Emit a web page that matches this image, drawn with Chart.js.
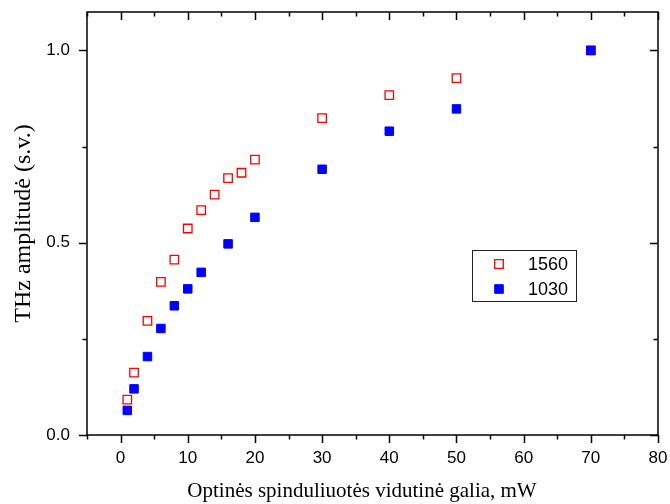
<!DOCTYPE html>
<html lang="lt">
  <head>
    <meta charset="UTF-8" />
    <title>THz amplitudė</title>
    <script src="https://cdn.jsdelivr.net/npm/chart.js@4.4.0/dist/chart.umd.min.js"></script>
    <style>
      html, body { margin: 0; padding: 0; background: #fff; }
      #wrap { width: 670px; height: 504px; }
    </style>
  </head>
  <body>
    <div id="wrap"><canvas id="myChart" width="670" height="504"></canvas></div>

    <script>
      // Vidutinė galia (mW) ir THz amplitudė (s.v.)
      const power1560 = [1, 2, 4, 6, 8, 10, 12, 14, 16, 18, 20, 30, 40, 50, 70];
      const amp1560 = [0.092, 0.162, 0.297, 0.398, 0.456, 0.537, 0.585, 0.625, 0.668, 0.682, 0.716, 0.824, 0.884, 0.928, 1.0];
      const power1030 = [1, 2, 4, 6, 8, 10, 12, 16, 20, 30, 40, 50, 70];
      const amp1030 = [0.064, 0.120, 0.204, 0.277, 0.336, 0.380, 0.423, 0.497, 0.566, 0.691, 0.790, 0.848, 1.0];

      // Ašių žymės
      const xLabels = [0, 10, 20, 30, 40, 50, 60, 70, 80];
      const xTicks = [-5, 0, 5, 10, 15, 20, 25, 30, 35, 40, 45, 50, 55, 60, 65, 70, 75, 80];
      const yLabels = [0, 0.5, 1.0];
      const yTicks = [0, 0.25, 0.5, 0.75, 1.0];

      const toPoints = (xs, ys) => xs.map((x, i) => ({ x: x, y: ys[i] }));

      // rėmelis ir žymių brūkšneliai (apačioje/kairėje į išorę, viršuje/dešinėje į vidų)
      const frameTicks = {
        id: "frameTicks",
        afterDraw(chart) {
          const { ctx, chartArea: a, scales } = chart;
          ctx.save();
          ctx.strokeStyle = "#000";
          ctx.lineWidth = 1.5;
          ctx.strokeRect(a.left, a.top, a.right - a.left, a.bottom - a.top);
          ctx.beginPath();
          xTicks.forEach((v) => {
            const px = Math.round(scales.x.getPixelForValue(v)) + 0.5;
            const len = v % 10 === 0 ? 8 : 4.5;
            ctx.moveTo(px, a.bottom); ctx.lineTo(px, a.bottom + len);
            ctx.moveTo(px, a.top); ctx.lineTo(px, a.top + len);
          });
          yTicks.forEach((v) => {
            const py = Math.round(scales.y.getPixelForValue(v)) + 0.5;
            const len = yLabels.includes(v) ? 8 : 4.5;
            ctx.moveTo(a.left, py); ctx.lineTo(a.left - len, py);
            ctx.moveTo(a.right, py); ctx.lineTo(a.right - len, py);
          });
          ctx.stroke();
          ctx.restore();
        },
      };

      // legenda grafiko viduje
      const innerLegend = {
        id: "innerLegend",
        afterDraw(chart) {
          const { ctx } = chart;
          const box = { x: 472, y: 250, w: 104, h: 51 };
          ctx.save();
          ctx.strokeStyle = "#222";
          ctx.lineWidth = 1;
          ctx.strokeRect(box.x + 0.5, box.y + 0.5, box.w, box.h);
          ctx.font = "18px 'Liberation Sans', Arial, sans-serif";
          ctx.fillStyle = "#000";
          ctx.textBaseline = "middle";
          chart.data.datasets.forEach((ds, i) => {
            const cy = box.y + 14 + i * 25;
            const cx = box.x + 27;
            ctx.lineWidth = ds.borderWidth;
            ctx.strokeStyle = ds.borderColor;
            ctx.fillStyle = ds.backgroundColor;
            ctx.beginPath();
            ctx.rect(cx - 4.3, cy - 4.3, 8.6, 8.6);
            ctx.fill();
            ctx.stroke();
            ctx.fillStyle = "#000";
            ctx.fillText(ds.label, box.x + 56, cy + 1);
          });
          ctx.restore();
        },
      };

      const tickFont = { family: "'Liberation Sans', Arial, sans-serif", size: 17 };
      const serif = "'Liberation Serif', 'Times New Roman', serif";

      const ctx = document.getElementById("myChart").getContext("2d");
      new Chart(ctx, {
        type: "scatter",
        data: {
          datasets: [
            {
              label: "1560",
              data: toPoints(power1560, amp1560),
              pointStyle: "rect",
              pointRadius: 6,
              borderColor: "#ff0000",
              backgroundColor: "rgba(255,255,255,0)",
              borderWidth: 1.3,
              order: 2,
            },
            {
              label: "1030",
              data: toPoints(power1030, amp1030),
              pointStyle: "rect",
              pointRadius: 6,
              borderColor: "#0000ff",
              backgroundColor: "#0000ff",
              borderWidth: 1,
              order: 1,
            },
          ],
        },
        options: {
          responsive: false,
          animation: false,
          layout: { padding: { top: 12, right: 12, left: 0, bottom: 0 } },
          plugins: { legend: { display: false }, tooltip: { enabled: false } },
          scales: {
            x: {
              type: "linear",
              min: -5,
              max: 80,
              afterBuildTicks: (s) => { s.ticks = xLabels.map((v) => ({ value: v })); },
              afterFit: (s) => {
                s.height = 69;
                s.paddingLeft = 0;
                s.paddingRight = 0;
              },
              grid: { display: false, drawTicks: false },
              border: { display: false },
              ticks: { font: tickFont, color: "#000", padding: 13, maxRotation: 0 },
              title: {
                display: true,
                text: "Optinės spinduliuotės vidutinė galia, mW\u2003",
                font: { family: serif, size: 21 },
                color: "#000",
                padding: { top: 0, bottom: 0 },
              },
            },
            y: {
              type: "linear",
              min: 0,
              max: 1.1,
              afterBuildTicks: (s) => { s.ticks = yLabels.map((v) => ({ value: v })); },
              afterFit: (s) => {
                s.width = 87;
                s.paddingTop = 0;
                s.paddingBottom = 0;
              },
              grid: { display: false, drawTicks: false },
              border: { display: false },
              ticks: {
                font: tickFont,
                color: "#000",
                padding: 17,
                callback: (v) => Number(v).toFixed(1),
              },
              title: {
                display: true,
                text: "THz amplitudė (s.v.)",
                font: { family: serif, size: 24 },
                color: "#000",
                padding: { top: 9, bottom: 0 },
              },
            },
          },
        },
        plugins: [frameTicks, innerLegend],
      });
    </script>
  </body>
</html>
